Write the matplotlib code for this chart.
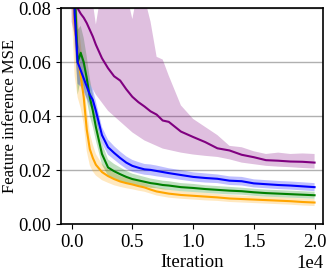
import numpy as np
import matplotlib
matplotlib.use('Agg')
import matplotlib.pyplot as plt

plt.rcParams['font.family'] = ['Liberation Serif', 'DejaVu Serif']
plt.rcParams['font.size'] = 13.5

iters = [0, 250, 500, 750, 1000, 1250, 1500, 1750, 2000, 2500, 3000, 3500, 4000, 4500,
         5000, 5500, 6000, 6500, 7000, 7500, 8000, 9000, 10000, 11000, 12000, 13000, 14000,
         15000, 16000, 17000, 18000, 19000, 20000]

# purple
purple_mean = [0.100, 0.086, 0.080, 0.078, 0.0765, 0.0745, 0.072, 0.0695, 0.0665, 0.0615, 0.0578,
               0.0548, 0.0532, 0.0500, 0.0472, 0.0452, 0.0436, 0.0418, 0.0406, 0.0384, 0.0379,
               0.0343, 0.0323, 0.0304, 0.0281, 0.0273, 0.0257, 0.0248, 0.0237, 0.0235, 0.0232,
               0.0231, 0.0228]
purple_hi = [0.13, 0.12, 0.11, 0.105, 0.10, 0.095, 0.090, 0.082, 0.074, 0.088, 0.085, 0.09,
             0.088, 0.086, 0.076, 0.088, 0.084, 0.075, 0.062, 0.061, 0.055, 0.044, 0.039,
             0.036, 0.033, 0.029, 0.0285, 0.027, 0.026, 0.0265, 0.026, 0.0262, 0.026]
purple_lo = [0.075, 0.07, 0.066, 0.062, 0.058, 0.055, 0.052, 0.05, 0.048, 0.045, 0.042, 0.040,
             0.038, 0.036, 0.034, 0.0325, 0.031, 0.030, 0.029, 0.028, 0.0275, 0.0265, 0.0258,
             0.0253, 0.0249, 0.024, 0.0228, 0.0222, 0.0216, 0.0213, 0.0211, 0.0208, 0.0206]

# blue
blue_mean = [0.115, 0.078, 0.060, 0.057, 0.054, 0.051, 0.048, 0.046, 0.042, 0.033, 0.0285,
             0.0264, 0.0245, 0.0228, 0.0216, 0.0209, 0.0203, 0.0201, 0.0197, 0.0193, 0.0189,
             0.0182, 0.0175, 0.0171, 0.0168, 0.0161, 0.0159, 0.0151, 0.0148, 0.0145, 0.0143,
             0.0140, 0.0137]
blue_std = [0.02, 0.012, 0.008, 0.006, 0.005, 0.0045, 0.004, 0.004, 0.0035, 0.003, 0.0028,
            0.0025, 0.0024, 0.0023, 0.0022, 0.0021, 0.002, 0.002, 0.002, 0.0019, 0.0018,
            0.0018, 0.0017, 0.0017, 0.0016, 0.0016, 0.0016, 0.0015, 0.0015, 0.0015, 0.0015,
            0.0015, 0.0015]

# green
green_mean = [0.105, 0.088, 0.060, 0.0635, 0.060, 0.054, 0.047, 0.042, 0.036, 0.026, 0.021,
              0.0196, 0.0185, 0.0175, 0.0167, 0.0162, 0.0157, 0.0152, 0.0149, 0.0145, 0.0143,
              0.0137, 0.0134, 0.0130, 0.0127, 0.0124, 0.0122, 0.0118, 0.0115, 0.0113, 0.0111,
              0.0109, 0.0107]
green_std = [0.02, 0.015, 0.012, 0.01, 0.009, 0.008, 0.007, 0.006, 0.005, 0.004, 0.003,
             0.0027, 0.0025, 0.0022, 0.002, 0.0019, 0.0018, 0.0017, 0.0016, 0.0016, 0.0016,
             0.0015, 0.0015, 0.0014, 0.0014, 0.0014, 0.0013, 0.0013, 0.0013, 0.0013, 0.0013,
             0.0013, 0.0013]

# orange
orange_mean = [0.11, 0.075, 0.062, 0.055, 0.047, 0.035, 0.0278, 0.0245, 0.0220, 0.0193, 0.0178,
               0.0167, 0.0158, 0.0152, 0.0147, 0.0141, 0.0136, 0.0128, 0.0121, 0.0117, 0.0113,
               0.0108, 0.0105, 0.0102, 0.0099, 0.0095, 0.0093, 0.0091, 0.0089, 0.0087, 0.0085,
               0.0082, 0.0080]
orange_std = [0.03, 0.02, 0.015, 0.012, 0.01, 0.008, 0.006, 0.005, 0.004, 0.003, 0.0025,
              0.0023, 0.002, 0.0019, 0.0018, 0.0017, 0.0016, 0.0015, 0.0015, 0.0015, 0.0015,
              0.0014, 0.0014, 0.0014, 0.0013, 0.0013, 0.0013, 0.0013, 0.0013, 0.0013, 0.0013,
              0.0013, 0.0013]

fig = plt.figure(figsize=(3.28, 2.76), dpi=100)
ax = fig.add_axes([0.186, 0.188, 0.799, 0.782])

x = np.array(iters)
for mean, std, c in [(orange_mean, orange_std, 'orange'),
                     (green_mean, green_std, 'green'),
                     (blue_mean, blue_std, 'blue')]:
    m = np.array(mean)
    s = np.array(std)
    ax.fill_between(x, m - s, m + s, color=c, alpha=0.25, lw=0)
    ax.plot(x, m, color=c, lw=1.5)

ax.fill_between(x, purple_lo, purple_hi, color='purple', alpha=0.25, lw=0)
ax.plot(x, purple_mean, color='purple', lw=1.5)

ax.set_xlim(-870, 20700)
ax.set_ylim(0, 0.08)
ax.set_yticks([0.0, 0.02, 0.04, 0.06, 0.08])
ax.set_xticks([0, 5000, 10000, 15000, 20000])
ax.ticklabel_format(axis='x', style='sci', scilimits=(0, 0))
ax.yaxis.grid(True, color='#b0b0b0', lw=1)
ax.set_axisbelow(True)
for sp in ax.spines.values():
    sp.set_linewidth(1.2)
ax.set_xlabel('Iteration', labelpad=2)
ax.set_ylabel('Feature inference MSE', fontsize=12, labelpad=0.5)

plt.savefig('out.png', dpi=100)
